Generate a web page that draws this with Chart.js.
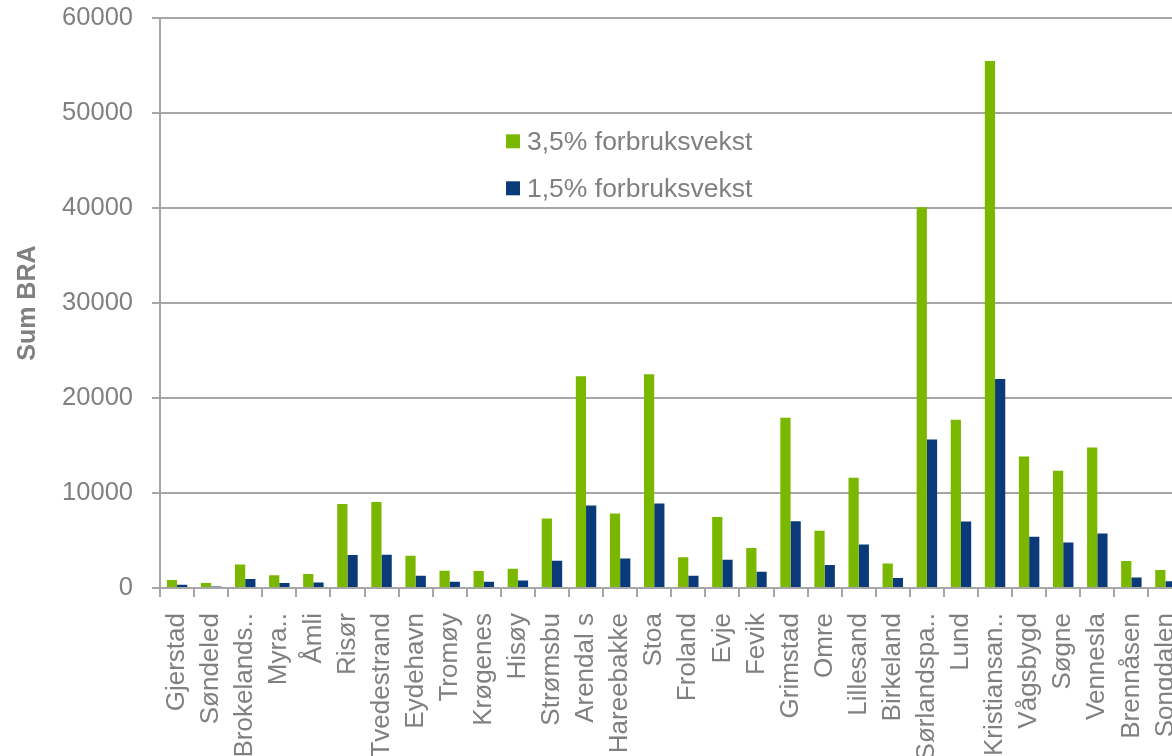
<!DOCTYPE html>
<html>
<head>
<meta charset="utf-8">
<script src="https://cdn.jsdelivr.net/npm/chart.js@4"></script>
<style>
  html, body { margin: 0; padding: 0; background: #ffffff; overflow: hidden; width: 1172px; height: 756px; }
  #wrap { position: absolute; left: 0; top: -16px; }
  canvas { display: block; }
</style>
</head>
<body>
<div id="wrap"><canvas id="chart" width="1213" height="816"></canvas></div>
<script>
// Område (sted) and sum BRA for two growth scenarios
const categories = [
  "Gjerstad", "Søndeled", "Brokelands..", "Myra..", "Åmli", "Risør", "Tvedestrand",
  "Eydehavn", "Tromøy", "Krøgenes", "Hisøy", "Strømsbu", "Arendal s", "Hareebakke",
  "Stoa", "Froland", "Evje", "Fevik", "Grimstad", "Omre", "Lillesand", "Birkeland",
  "Sørlandspa..", "Lund", "Kristiansan..", "Vågsbygd", "Søgne", "Vennesla",
  "Brennåsen", "Songdalen"
];
const seriesNames = ["3,5% forbruksvekst", "1,5% forbruksvekst"];
const vekst35 = [850, 530, 2480, 1330, 1470, 8850, 9060, 3400, 1820, 1790, 2030, 7320, 22300, 7840,
  22500, 3250, 7490, 4200, 17920, 6020, 11620, 2590, 40100, 17730, 55500, 13860, 12360, 14790, 2850, 1900];
const vekst15 = [350, 170, 950, 530, 590, 3470, 3500, 1290, 660, 660, 800, 2870, 8680, 3120,
  8890, 1300, 2970, 1710, 7030, 2410, 4580, 1050, 15640, 7000, 22000, 5400, 4800, 5730, 1100, 700];
const yTickValues = [0, 10000, 20000, 30000, 40000, 50000, 60000];
const yTitle = "Sum BRA";

const GREEN = "#7ab800";
const BLUE = "#0b3a7a";
const TEXT = "#808080";
const GRID = "#a6a6a6";
const FONT = "'Liberation Sans', Arial, sans-serif";

// Legend drawn as a stacked list inside the plot area
const innerLegend = {
  id: "innerLegend",
  afterDraw(chart) {
    const { ctx, chartArea } = chart;
    const x0 = chartArea.left + 346;
    const y0 = chartArea.top + 123;
    const rowGap = 47;
    ctx.save();
    ctx.font = "26.5px " + FONT;
    ctx.textBaseline = "middle";
    ctx.textAlign = "left";
    chart.data.datasets.forEach((ds, i) => {
      const cy = y0 + i * rowGap;
      ctx.fillStyle = ds.backgroundColor;
      ctx.fillRect(x0, cy - 7, 14, 14);
      ctx.fillStyle = TEXT;
      ctx.fillText(ds.label, x0 + 21, cy + 1);
    });
    ctx.restore();
  }
};

new Chart(document.getElementById("chart"), {
  type: "bar",
  data: {
    labels: categories,
    datasets: [
      { label: seriesNames[0], data: vekst35, backgroundColor: GREEN,
        categoryPercentage: 0.6, barPercentage: 1.0, borderWidth: 0 },
      { label: seriesNames[1], data: vekst15, backgroundColor: BLUE,
        categoryPercentage: 0.6, barPercentage: 1.0, borderWidth: 0 }
    ]
  },
  options: {
    responsive: false,
    animation: false,
    devicePixelRatio: 1,
    layout: { padding: { left: 0, top: 1, right: 20, bottom: 0 } },
    plugins: {
      legend: { display: false },
      tooltip: { enabled: false }
    },
    scales: {
      x: {
        offset: true,
        grid: { offset: true, drawOnChartArea: false, drawTicks: true, tickLength: 9,
                color: GRID, lineWidth: 2 },
        border: { display: true, color: GRID, width: 2 },
        ticks: {
          autoSkip: false, minRotation: 90, maxRotation: 90, padding: 16,
          color: TEXT, font: { family: FONT, size: 26 }
        },
        afterFit(scale) { scale.height = 212; }
      },
      y: {
        min: 0, max: 60000,
        afterBuildTicks(scale) { scale.ticks = yTickValues.map(v => ({ value: v })); },
        grid: { color: GRID, lineWidth: 2, tickLength: 8, drawTicks: true },
        border: { display: true, color: GRID, width: 2 },
        ticks: {
          padding: 19, color: TEXT, font: { family: FONT, size: 25.5 },
          callback: v => String(v)
        },
        title: {
          display: true, text: yTitle, color: TEXT,
          font: { family: FONT, size: 25, weight: "bold" },
          padding: { top: 13, bottom: 0 }
        },
        afterFit(scale) { scale.width = 160; }
      }
    }
  },
  plugins: [innerLegend]
});
</script>
</body>
</html>
